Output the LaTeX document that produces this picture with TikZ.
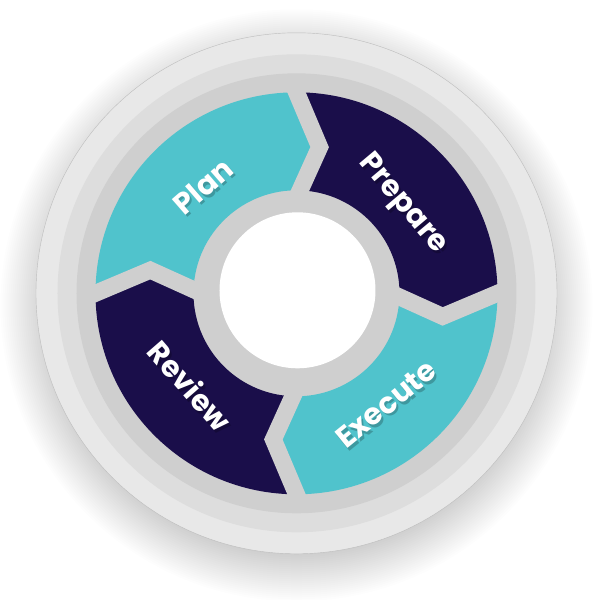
\documentclass[tikz,border=0pt]{standalone}
\usepackage{xcolor}
\usepackage{fontspec}
\usepackage{tikz}
\usetikzlibrary{shapes,arrows,positioning}

\newfontfamily\stagefont{Poppins}

\definecolor{planblue}{RGB}{80,195,204}
\definecolor{prepnavy}{RGB}{26,14,74}
\definecolor{ringin}{RGB}{207,207,207}
\definecolor{ringmid}{RGB}{221,221,221}
\definecolor{ringout}{RGB}{232,232,232}
\definecolor{rimgray}{RGB}{190,190,190}

\begin{document}
\begin{tikzpicture}[x=0.025cm,y=0.025cm,
  gapline/.style={draw=ringin,line width=0.425cm,line join=miter,shorten <=-3pt,shorten >=-3pt},
  stage/.style={font=\stagefont\bfseries\fontsize{21}{21}\selectfont,text=white,inner sep=0pt,text height=15pt,text depth=0pt},
  stageshadow/.style={stage,text=black,text opacity=0.22,xshift=0.5mm,yshift=-0.7mm}]
% Canvas
\useasboundingbox (-296.5,-306.7) rectangle (303.5,293.3);
\fill[white] (-296.5,-306.7) rectangle (303.5,293.3);

% Soft shadow under the disc
\foreach \r in {250,252,...,296}
  \fill[black,opacity=0.009] (0,-12) circle[radius=\r];

% Outer discs
\fill[ringout] (0,0) circle[radius=260.5];
\draw[rimgray,line width=0.3pt] (0,0) circle[radius=260.5];
\fill[ringmid] (0,0) circle[radius=239];
\fill[ringin] (0,0) circle[radius=220];

% Four stages, each ends in a chevron pointing clockwise
\foreach \s/\col in {180/planblue, 90/prepnavy, 0/planblue, -90/prepnavy} {
  \pgfmathsetmacro{\e}{\s-90}
  \fill[\col] (\s:201) arc[start angle=\s,end angle=\e,radius=201]
    -- ({\e-9}:148) -- ({\e-2}:103) arc[start angle=\e-2,end angle=\s-2,radius=103]
    -- ({\s-9}:148) -- cycle;
}

% Gaps between the stages
\foreach \g in {180,90,0,-90}
  \draw[gapline] (\g:201) -- ({\g-9}:148) -- ({\g-2}:103);

% Centre hole
\fill[white] (1,3) circle[radius=78];

% Labels
\node[stageshadow,rotate=41] at (131:142) {Plan};
\node[stage,rotate=41] (plan) at (131:142) {Plan};
\node[stageshadow,rotate=-50] at (40:142) {Prepare};
\node[stage,rotate=-50] (prepare) at (40:142) {Prepare};
\node[stageshadow,rotate=39] at (-51:142) {Execute};
\node[stage,rotate=39] (execute) at (-51:142) {Execute};
\node[stageshadow,rotate=-49] at (221:142) {Review};
\node[stage,rotate=-49] (review) at (221:142) {Review};
\end{tikzpicture}
\end{document}
